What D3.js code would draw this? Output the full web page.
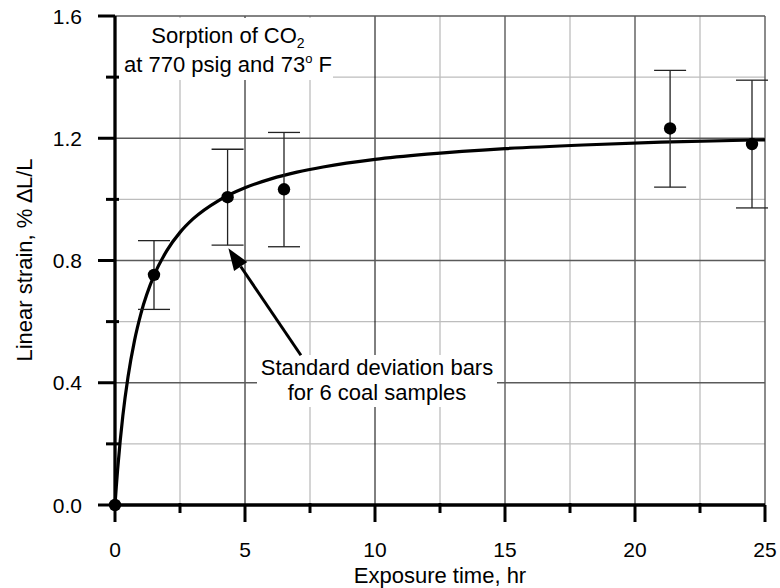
<!DOCTYPE html>
<html>
<head>
<meta charset="utf-8">
<script src="https://cdn.jsdelivr.net/npm/d3@7"></script>
<style>
  body { margin: 0; background: #fff; }
  text { font-family: "Liberation Sans", Arial, sans-serif; fill: #000; }
</style>
</head>
<body>
<svg width="780" height="588"></svg>
<script>
// measured points (mean of 6 coal samples) and std. dev. bar ends
var time = [0, 1.5, 4.33, 6.5, 21.35, 24.5];
var strain = [0, 0.753, 1.007, 1.033, 1.232, 1.181];
var errLow = [null, 0.64, 0.85, 0.845, 1.04, 0.972];
var errHigh = [null, 0.865, 1.164, 1.219, 1.422, 1.39];

// fitted curve
var curveT = [0, 0.05, 0.1, 0.2, 0.3, 0.5, 0.75, 1, 1.5, 2, 2.5, 3, 4, 5, 6, 7, 8, 10, 12, 15, 18, 21, 25];
var curveY = [0, 0.060, 0.115, 0.210, 0.291, 0.419, 0.538, 0.627, 0.751, 0.833, 0.892, 0.936, 0.997, 1.038, 1.067, 1.089, 1.106, 1.131, 1.148, 1.166, 1.178, 1.187, 1.195];

var xTicks = [0, 5, 10, 15, 20, 25];
var xMinor = [2.5, 7.5, 12.5, 17.5, 22.5];
var yTicks = [0, 0.4, 0.8, 1.2, 1.6];
var yMinor = [0.2, 0.6, 1.0, 1.4];

var svg = d3.select("svg");

var x = d3.scaleLinear().domain([0, 25]).range([115, 765]);
var y = d3.scaleLinear().domain([0, 1.6]).range([505, 16]);

// grid
var grid = svg.append("g");
grid.selectAll(".vmin").data(xMinor).enter().append("line")
    .attr("x1", d => x(d)).attr("x2", d => x(d))
    .attr("y1", y(0)).attr("y2", y(1.6))
    .attr("stroke", "#bdbdbd").attr("stroke-width", 1.3);
grid.selectAll(".hmin").data(yMinor).enter().append("line")
    .attr("x1", x(0)).attr("x2", x(25))
    .attr("y1", d => y(d)).attr("y2", d => y(d))
    .attr("stroke", "#bdbdbd").attr("stroke-width", 1.3);
grid.selectAll(".vmaj").data(xTicks.slice(1)).enter().append("line")
    .attr("x1", d => x(d)).attr("x2", d => x(d))
    .attr("y1", y(0)).attr("y2", y(1.6))
    .attr("stroke", d => d <= 10 ? "#000" : "#5a5a5a").attr("stroke-width", d => d <= 10 ? 1 : 1.4);
grid.selectAll(".hmaj").data(yTicks.slice(1)).enter().append("line")
    .attr("x1", x(0)).attr("x2", x(25))
    .attr("y1", d => y(d)).attr("y2", d => y(d))
    .attr("stroke", "#5a5a5a").attr("stroke-width", 1.4);

// white label backgrounds
svg.append("rect").attr("x", 119).attr("y", 18).attr("width", 214).attr("height", 62).attr("fill", "#fff");
svg.append("rect").attr("x", 257).attr("y", 355).attr("width", 240).attr("height", 52).attr("fill", "#fff");

// axes
var ax = svg.append("g").attr("stroke", "#000");
ax.append("line").attr("x1", x(0)).attr("x2", x(25)).attr("y1", y(0)).attr("y2", y(0)).attr("stroke-width", 3.3);
ax.append("line").attr("x1", x(0)).attr("x2", x(0)).attr("y1", y(0)).attr("y2", y(1.6)).attr("stroke-width", 3.3);
ax.selectAll(".xt").data(xTicks).enter().append("line")
    .attr("x1", d => x(d)).attr("x2", d => x(d)).attr("y1", y(0)).attr("y2", y(0) + 17).attr("stroke-width", 3);
ax.selectAll(".xm").data(xMinor).enter().append("line")
    .attr("x1", d => x(d)).attr("x2", d => x(d)).attr("y1", y(0) - 2).attr("y2", y(0) + 8).attr("stroke-width", 3);
ax.selectAll(".yt").data(yTicks).enter().append("line")
    .attr("x1", x(0) - 17).attr("x2", x(0)).attr("y1", d => y(d)).attr("y2", d => y(d)).attr("stroke-width", 3);
ax.selectAll(".ym").data(yMinor).enter().append("line")
    .attr("x1", x(0) - 9).attr("x2", x(0) + 4).attr("y1", d => y(d)).attr("y2", d => y(d)).attr("stroke-width", 3);

svg.append("g").selectAll("text").data(xTicks).enter().append("text")
    .attr("x", d => x(d)).attr("y", 557).attr("text-anchor", "middle")
    .attr("font-size", 21).text(d => d);
svg.append("g").selectAll("text").data(yTicks).enter().append("text")
    .attr("x", 82).attr("y", d => y(d)).attr("dy", "0.36em").attr("text-anchor", "end")
    .attr("font-size", 21).text(d => d3.format(".1f")(d));

svg.append("text").attr("x", 440).attr("y", 583).attr("text-anchor", "middle")
    .attr("font-size", 22).text("Exposure time, hr");
svg.append("text").attr("transform", "translate(32,260) rotate(-90)").attr("text-anchor", "middle")
    .attr("font-size", 22).text("Linear strain, % \u2206L/L");

// fitted curve
var line = d3.line().x(d => x(d[0])).y(d => y(d[1])).curve(d3.curveMonotoneX);
svg.append("path").datum(curveT.map((t, i) => [t, curveY[i]]))
    .attr("d", line).attr("fill", "none").attr("stroke", "#000").attr("stroke-width", 3.2);

// error bars
var pts = time.map((t, i) => ({t: t, v: strain[i], lo: errLow[i], hi: errHigh[i]}));
var eb = svg.append("g").attr("stroke", "#222").attr("stroke-width", 1.3);
pts.filter(d => d.lo != null).forEach(function(d) {
  eb.append("line").attr("x1", x(d.t)).attr("x2", x(d.t)).attr("y1", y(d.lo)).attr("y2", y(d.hi));
  eb.append("line").attr("x1", x(d.t) - 16).attr("x2", x(d.t) + 16).attr("y1", y(d.lo)).attr("y2", y(d.lo));
  eb.append("line").attr("x1", x(d.t) - 16).attr("x2", x(d.t) + 16).attr("y1", y(d.hi)).attr("y2", y(d.hi));
});

svg.append("g").selectAll("circle").data(pts).enter().append("circle")
    .attr("cx", d => x(d.t)).attr("cy", d => y(d.v)).attr("r", 6.2).attr("fill", "#000");

// arrow to the std. dev. bar
var tail = [x(7.15), y(0.49)], tip = [x(4.36), y(0.84)];
var ang = Math.atan2(tip[1] - tail[1], tip[0] - tail[0]);
var hl = 22, hw = 8;
var base = [tip[0] - hl * Math.cos(ang), tip[1] - hl * Math.sin(ang)];
svg.append("line").attr("x1", tail[0]).attr("y1", tail[1]).attr("x2", base[0]).attr("y2", base[1])
    .attr("stroke", "#000").attr("stroke-width", 3);
svg.append("path")
    .attr("d", "M" + tip + "L" + [base[0] + hw * Math.sin(ang), base[1] - hw * Math.cos(ang)] +
               "L" + [base[0] - hw * Math.sin(ang), base[1] + hw * Math.cos(ang)] + "Z")
    .attr("fill", "#000");

// annotations
var t1 = svg.append("text").attr("x", 228).attr("y", 43).attr("text-anchor", "middle").attr("font-size", 22);
t1.append("tspan").text("Sorption of CO");
t1.append("tspan").attr("font-size", 14).attr("dy", 5).text("2");
var t2 = svg.append("text").attr("x", 228).attr("y", 72).attr("text-anchor", "middle").attr("font-size", 22);
t2.append("tspan").text("at 770 psig and 73");
t2.append("tspan").attr("font-size", 13).attr("dy", -9).text("o");
t2.append("tspan").attr("dy", 9).text(" F");

svg.append("text").attr("x", 377).attr("y", 375).attr("text-anchor", "middle").attr("font-size", 22)
    .text("Standard deviation bars");
svg.append("text").attr("x", 377).attr("y", 400).attr("text-anchor", "middle").attr("font-size", 22)
    .text("for 6 coal samples");
</script>
</body>
</html>
